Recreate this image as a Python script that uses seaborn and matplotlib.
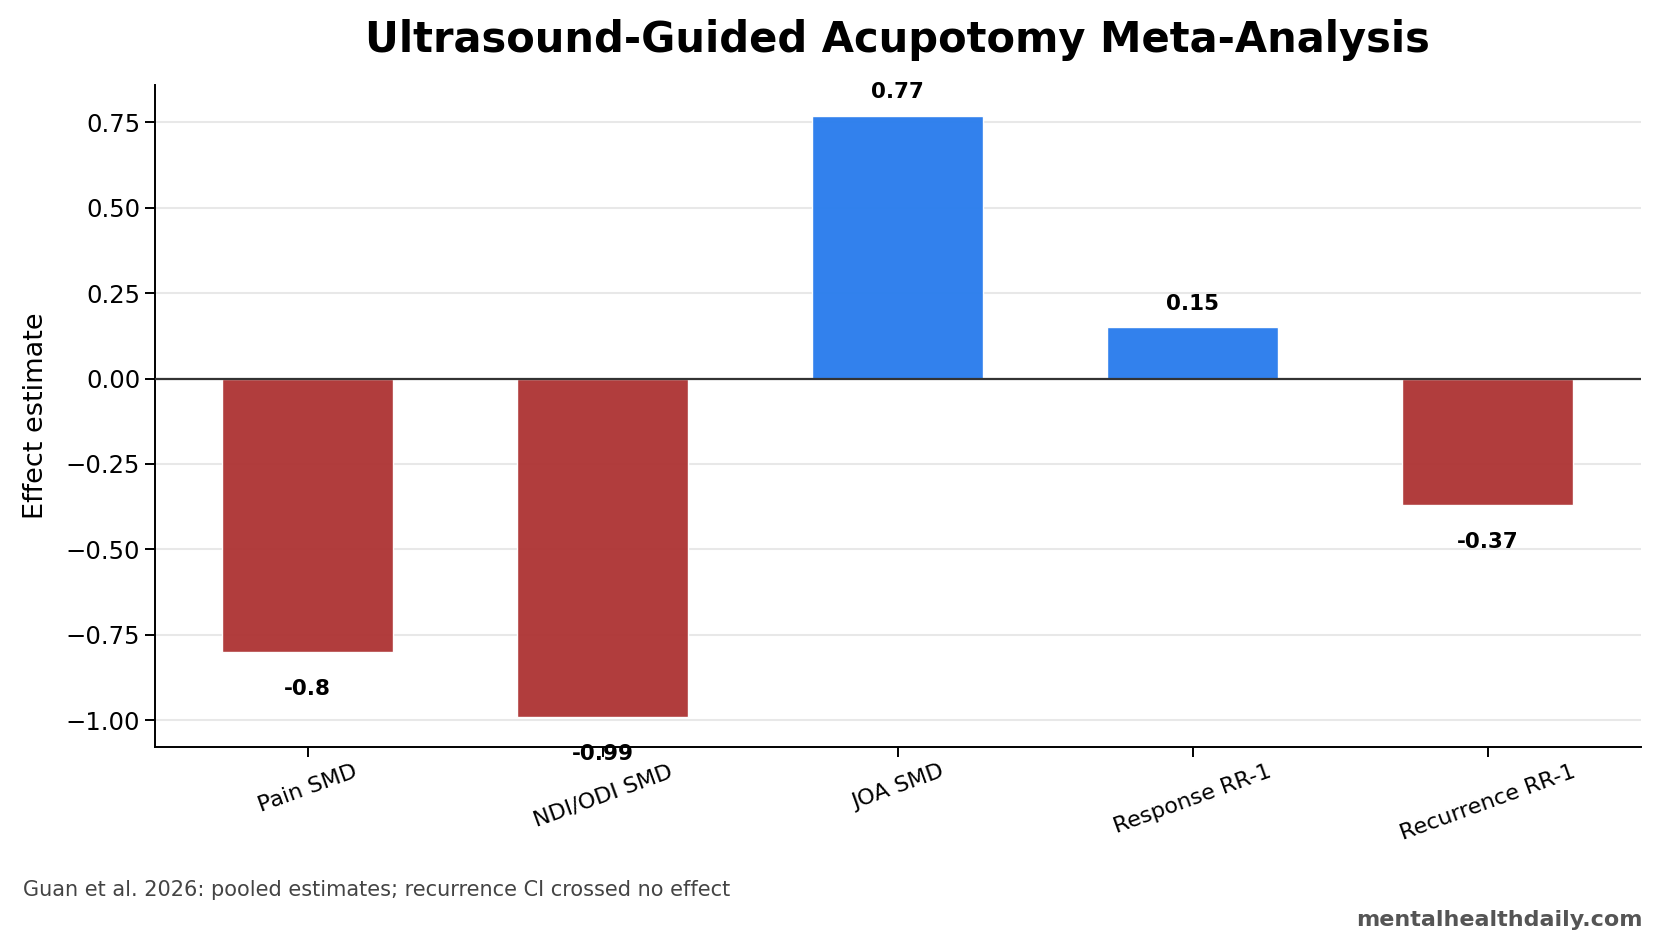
import numpy as np
import pandas as pd
import matplotlib.pyplot as plt
import seaborn as sns

sns.set_style("white")
plt.rcParams['font.family'] = ['DejaVu Sans']
plt.rcParams.update({"text.color": "black", "axes.labelcolor": "black",
                     "xtick.color": "black", "ytick.color": "black",
                     "axes.edgecolor": "black"})

outcomes = ["Pain SMD", "NDI/ODI SMD", "JOA SMD", "Response RR-1", "Recurrence RR-1"]
estimates = [-0.80, -0.99, 0.77, 0.15, -0.37]
labels = ["-0.8", "-0.99", "0.77", "0.15", "-0.37"]

df = pd.DataFrame({"outcome": outcomes, "estimate": estimates})
df["sign"] = np.where(df["estimate"] >= 0, "pos", "neg")

fig, ax = plt.subplots(figsize=(16.64, 9.5), dpi=100)
fig.subplots_adjust(left=0.093, right=0.986, top=0.91, bottom=0.214)

ax.yaxis.grid(True, color="#e8e8e8", lw=1.5)
ax.set_axisbelow(True)

sns.barplot(data=df, x="outcome", y="estimate", hue="sign",
            palette={"pos": "#2f80ed", "neg": "#b03a3a"}, saturation=1,
            dodge=False, width=0.58, alpha=0.99, legend=False, ax=ax)

# matplotlib-style x margins instead of seaborn's fixed categorical limits
ax.set_autoscalex_on(True)
ax.margins(x=0.05)
ax.autoscale_view(scaley=False)

ax.axhline(0, color="#333333", lw=1.6, zorder=3)
sns.despine(ax=ax)
for s in ["left", "bottom"]:
    ax.spines[s].set_linewidth(1.4)

for i, (v, t) in enumerate(zip(estimates, labels)):
    if v >= 0:
        ax.text(i, v + 0.068, t, ha="center", va="center", fontsize=15.5, fontweight="bold")
    else:
        ax.text(i, v - 0.108, t, ha="center", va="center", fontsize=15.5, fontweight="bold")

ax.set_xlabel("")
ax.set_ylabel("Effect estimate", fontsize=19.5, labelpad=12)
ax.tick_params(axis="y", labelsize=17.5, length=7, width=1.4, left=True)
ax.tick_params(axis="x", labelsize=16, length=7, width=1.4, bottom=True)
plt.setp(ax.get_xticklabels(), rotation=20)
ax.set_title("Ultrasound-Guided Acupotomy Meta-Analysis", fontsize=30, fontweight="bold", pad=24)

fig.text(0.014, 0.063, "Guan et al. 2026: pooled estimates; recurrence CI crossed no effect",
         fontsize=15, color="#444444", ha="left", va="center")
fig.text(0.987, 0.032, "mentalhealthdaily.com", fontsize=16, color="#555555",
         fontweight="bold", ha="right", va="center")

fig.savefig("out.png", dpi=100)
